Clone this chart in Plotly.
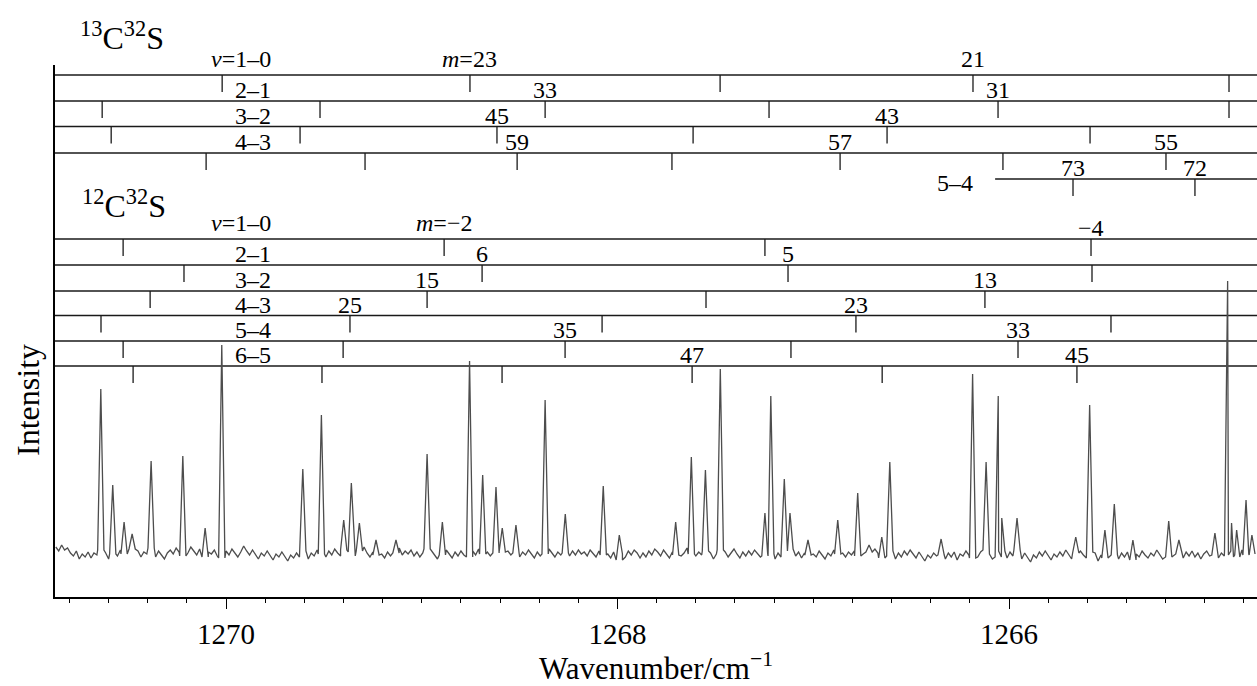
import numpy as np
import plotly.graph_objects as go

# ---------------- data ----------------
WN_LEFT, WN_RIGHT = 1270.874, 1264.733

# spectral peaks: position (cm-1) and intensity (arb. units, baseline ~44)
peak_wn = [1270.640, 1270.579, 1270.521, 1270.480, 1270.383, 1270.221, 1270.107, 1270.022,
           1269.608, 1269.513, 1269.399, 1269.360, 1269.319, 1269.234, 1269.132, 1268.973,
           1268.895, 1268.756, 1268.689, 1268.621, 1268.589, 1268.519, 1268.370, 1268.267,
           1268.073, 1267.991, 1267.703, 1267.623, 1267.551, 1267.475, 1267.247, 1267.217,
           1267.148, 1267.119, 1267.027, 1266.875, 1266.773, 1266.715, 1266.650, 1266.609,
           1266.347, 1266.186, 1266.117, 1266.055, 1266.037, 1265.959, 1265.659, 1265.588,
           1265.510, 1265.462, 1265.367, 1265.184, 1265.132, 1264.948, 1264.883, 1264.863,
           1264.837, 1264.789, 1264.759]
peak_int = [208, 112, 75, 63, 136, 141, 69, 252,
            128, 182, 77, 114, 74, 57, 57, 143,
            75, 236, 122, 110, 69, 72, 197, 83,
            111, 62, 75, 140, 127, 228, 84, 201,
            118, 84, 57, 77, 104, 52, 60, 135,
            58, 223, 135, 201, 79, 79, 60, 192,
            67, 93, 57, 76, 57, 64, 316, 74,
            67, 97, 62]

# baseline (noise) read every 0.015 cm-1 starting at 1270.87 going down
noise_start = 1270.87
noise_step = 0.015
noise_int = [
    50, 46, 52, 47, 49, 44, 41, 46, 38, 43, 40, 45, 39, 44, 42, 47, 40, 44, 38, 43,
    45, 41, 47, 43, 39, 44, 48, 42, 46, 40, 45, 43, 49, 44, 40, 46, 42, 38, 44, 47,
    43, 49, 45, 41, 47, 44, 50, 46, 42, 48, 44, 40, 45, 43, 47, 41, 44, 39, 46, 42,
    48, 44, 40, 45, 51, 46, 42, 47, 43, 38, 44, 41, 46, 42, 37, 43, 40, 45, 41, 36,
    42, 39, 44, 40, 46, 43, 38, 44, 41, 47, 43, 45, 40, 46, 42, 48, 44, 41, 47, 43,
    49, 45, 41, 46, 43, 50, 44, 40, 45, 42, 47, 43, 39, 45, 41, 46, 44, 49, 42, 46,
    43, 47, 41, 45, 40, 44, 48, 43, 46, 41, 38, 44, 42, 47, 43, 39, 45, 41, 46, 42,
    44, 40, 46, 42, 48, 43, 39, 45, 41, 47, 44, 50, 45, 41, 46, 42, 38, 44, 40, 45,
    42, 47, 43, 39, 45, 41, 46, 43, 48, 44, 40, 45, 42, 38, 44, 41, 46, 42, 47, 43,
    45, 41, 47, 44, 40, 46, 42, 48, 43, 39, 45, 41, 37, 43, 40, 46, 42, 47, 44, 39,
    44, 40, 46, 42, 48, 45, 41, 47, 43, 39, 45, 42, 46, 41, 44, 49, 43, 46, 41, 45,
    42, 46, 40, 44, 38, 43, 47, 42, 45, 40, 44, 48, 43, 39, 45, 41, 46, 42, 47, 44,
    40, 45, 41, 47, 43, 38, 44, 40, 46, 42, 48, 43, 41, 45, 39, 44, 42, 47, 43, 40,
    46, 42, 38, 44, 41, 47, 43, 49, 44, 40, 45, 42, 46, 41, 37, 43, 40, 45, 42, 48,
    44, 39, 45, 41, 46, 43, 38, 44, 40, 46, 42, 47, 43, 39, 45, 41, 36, 42, 39, 44,
    41, 46, 42, 38, 44, 40, 45, 37, 43, 41, 46, 42, 39, 44, 40, 45, 42, 47, 43, 38,
    44, 40, 46, 42, 39, 45, 41, 47, 43, 38, 44, 40, 35, 42, 39, 45, 41, 46, 42, 37,
    43, 40, 45, 41, 47, 42, 38, 44, 41, 46, 42, 39, 45, 40, 44, 36, 42, 39, 45, 41,
    46, 42, 38, 44, 40, 45, 41, 37, 43, 40, 46, 42, 39, 44, 41, 47, 43, 38, 44, 40,
    45, 42, 48, 43, 39, 45, 41, 46, 40, 44, 38, 43, 46, 41, 45, 42, 39, 44, 41, 46,
    42, 45, 40, 44, 47, 42, 45, 43, 41]

# 13C32S assignment ladders (line positions, cm-1)
c13_bands = ["<i>v</i>=1–0", "2–1", "3–2", "4–3", "5–4"]
c13_ticks = [
    [1270.020, 1268.754, 1267.476, 1266.184, 1264.876],
    [1270.633, 1269.520, 1268.370, 1267.226, 1266.056, 1264.876],
    [1270.587, 1269.622, 1268.616, 1267.614, 1266.623, 1265.586],
    [1270.102, 1269.290, 1268.513, 1267.722, 1266.863, 1266.031, 1265.198],
    [1265.673, 1265.050],
]
c13_band_start = [None, None, None, None, 1266.071]
# (row, tick index, m label)
c13_labels = [(0, 1, "<i>m</i>=23"), (0, 3, "21"), (1, 2, "33"), (1, 4, "31"),
              (2, 2, "45"), (2, 4, "43"), (3, 2, "59"), (3, 4, "57"), (3, 6, "55"),
              (4, 0, "73"), (4, 1, "72")]

# 12C32S assignment ladders
c12_bands = ["<i>v</i>=1–0", "2–1", "3–2", "4–3", "5–4", "6–5"]
c12_ticks = [
    [1270.526, 1268.886, 1267.247, 1265.581],
    [1270.215, 1268.692, 1267.129, 1265.576],
    [1270.388, 1268.973, 1267.548, 1266.123],
    [1270.639, 1269.367, 1268.079, 1266.782, 1265.479],
    [1270.526, 1269.402, 1268.268, 1267.114, 1265.954],
    [1270.475, 1269.510, 1268.590, 1267.619, 1266.648, 1265.653],
]
c12_labels = [(0, 1, "<i>m</i>=−2"), (0, 3, "−4"), (1, 1, "6"), (1, 2, "5"),
              (2, 1, "15"), (2, 3, "13"), (3, 1, "25"), (3, 3, "23"),
              (4, 2, "35"), (4, 4, "33"), (5, 3, "47"), (5, 5, "45")]

# ---------------- layout constants ----------------
Y_MAX = 532
c13_levels = [522, 496, 470.5, 444, 418]
c12_levels = [358, 332, 306, 281.5, 256, 231]
TICK_LEN = 17
FONT = "Liberation Serif"
BAND_X = 1269.760

# ---------------- build spectrum polyline ----------------
grid_wn = noise_start - noise_step * np.arange(len(noise_int))
hw = 0.016
pts = [(x, y) for x, y in zip(grid_wn, noise_int)
       if all(abs(x - c) >= hw for c in peak_wn)]
for c, h in zip(peak_wn, peak_int):
    j = int(np.argmin(np.abs(grid_wn - c)))
    b = noise_int[j]
    pts += [(c + hw, b), (c, h), (c - hw, b)]
pts.sort(key=lambda p: -p[0])
spec_x = [p[0] for p in pts]
spec_y = [p[1] for p in pts]

fig = go.Figure()


def ladder(levels, ticks, starts=None):
    xs, ys = [], []
    for r, lvl in enumerate(levels):
        x0 = WN_LEFT if (starts is None or starts[r] is None) else starts[r]
        xs += [x0, WN_RIGHT, None]
        ys += [lvl, lvl, None]
        for t in ticks[r]:
            xs += [t, t, None]
            ys += [lvl, lvl - TICK_LEN, None]
    return xs, ys


for levels, ticks, starts in [(c13_levels, c13_ticks, c13_band_start),
                              (c12_levels, c12_ticks, None)]:
    lx, ly = ladder(levels, ticks, starts)
    fig.add_trace(go.Scatter(x=lx, y=ly, mode="lines",
                             line=dict(color="#1a1a1a", width=1.3),
                             hoverinfo="skip", showlegend=False))

fig.add_trace(go.Scatter(x=spec_x, y=spec_y, mode="lines",
                         line=dict(color="#4d4d4d", width=1.3),
                         showlegend=False))

ann = []
lab_font = dict(family=FONT, size=24, color="black")
for levels, ticks, labels in [(c13_levels, c13_ticks, c13_labels),
                              (c12_levels, c12_ticks, c12_labels)]:
    for r, i, txt in labels:
        ys = 1 if (r == 0 and txt != "−4") else -4
        ann.append(dict(x=ticks[r][i], y=levels[r], text=txt, showarrow=False,
                        xanchor="center", yanchor="bottom", yshift=ys, font=lab_font))

for r, txt in enumerate(c13_bands[:4]):
    ann.append(dict(x=BAND_X, y=c13_levels[r], text=txt, showarrow=False,
                    xanchor="right", yanchor="bottom", yshift=1 if r == 0 else -4,
                    font=lab_font))
ann.append(dict(x=1266.276, y=c13_levels[4], text=c13_bands[4], showarrow=False,
                xanchor="center", yanchor="middle", yshift=-4, font=lab_font))
for r, txt in enumerate(c12_bands):
    ann.append(dict(x=BAND_X, y=c12_levels[r], text=txt, showarrow=False,
                    xanchor="right", yanchor="bottom", yshift=1 if r == 0 else -4,
                    font=lab_font))

# species titles
ann.append(dict(x=1270.53, xref="x", y=(597 - 36) / Y_MAX, yref="paper",
                text="<sup>13</sup>C<sup>32</sup>S", showarrow=False,
                xanchor="center", yanchor="middle",
                font=dict(family=FONT, size=32, color="black")))
ann.append(dict(x=1270.52, xref="x", y=(597 - 204) / Y_MAX, yref="paper",
                text="<sup>12</sup>C<sup>32</sup>S", showarrow=False,
                xanchor="center", yanchor="middle",
                font=dict(family=FONT, size=32, color="black")))
# y title
ann.append(dict(x=-0.0225, xref="paper", y=(597 - 400) / Y_MAX, yref="paper",
                text="Intensity", showarrow=False, textangle=-90,
                xanchor="center", yanchor="middle",
                font=dict(family=FONT, size=32, color="black")))

fig.update_layout(
    width=1257, height=686, autosize=False,
    margin=dict(l=55, r=0, t=65, b=89),
    plot_bgcolor="white", paper_bgcolor="white",
    annotations=ann,
    xaxis=dict(range=[WN_LEFT, WN_RIGHT], showgrid=False, zeroline=False,
               showline=True, linecolor="black", linewidth=1.5,
               ticks="outside", ticklen=10, tickwidth=1, tickcolor="black",
               tick0=1266, dtick=2,
               minor=dict(ticks="outside", ticklen=4, dtick=0.2, tick0=1266,
                          tickcolor="black", tickwidth=1),
               tickfont=dict(family=FONT, size=29, color="black"),
               title=dict(text="Wavenumber/cm<sup>−1</sup>",
                          font=dict(family=FONT, size=31, color="black"),
                          standoff=6)),
    yaxis=dict(range=[0, Y_MAX], showgrid=False, zeroline=False,
               showline=True, linecolor="black", linewidth=1.5,
               showticklabels=False, ticks=""),
)

fig.write_html("out.html", config={"displayModeBar": False},
               post_script="document.body.style.margin='0';")
